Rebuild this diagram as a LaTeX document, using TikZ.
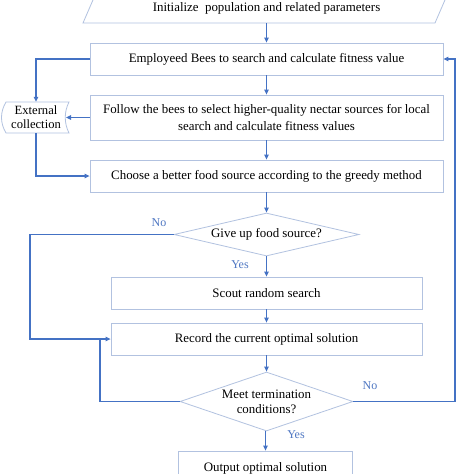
\documentclass[tikz,border=0pt]{standalone}
\usepackage{fontspec}
\setmainfont{Liberation Serif}
\usetikzlibrary{shapes.geometric,arrows.meta,calc}
\definecolor{linec}{RGB}{68,114,196}
\definecolor{boxc}{RGB}{178,194,224}
\definecolor{labc}{RGB}{80,120,195}
\tikzset{
  boxnode/.style={rectangle,draw=boxc,line width=0.8pt,inner sep=0pt,font=\fontsize{12.9}{17}\selectfont,align=center},
  decnode/.style={diamond,draw=boxc,line width=0.8pt,inner sep=0pt},
  arr/.style={draw=linec,line width=1.1pt,-{Triangle[length=5pt,width=4.5pt]}},
  ln/.style={draw=linec,line width=1.1pt},
  lab/.style={text=labc,font=\fontsize{12}{13}\selectfont,inner sep=0pt},
  dtext/.style={font=\fontsize{12.9}{15}\selectfont,align=center}
}
\begin{document}
\begin{tikzpicture}[x=1pt,y=-1pt]
\useasboundingbox (0,0) rectangle (474,474);
\clip (0,0) rectangle (474,474);
\fill[white] (0,0) rectangle (474,474);
% initialize parallelogram
\draw[boxc,line width=0.8pt] (96,-7) -- (448,-7) -- (435,23) -- (83,23) -- cycle;
\node[minimum height=30pt,minimum width=200pt,inner sep=0pt,font=\fontsize{12.9}{15}\selectfont] (init) at (266.5,8) {Initialize\ \ population and related parameters};
% boxes
\node[boxnode,minimum width=353pt,minimum height=32pt] (b1) at (266.5,59) {Employeed Bees to search and calculate fitness value};
\node[boxnode,minimum width=353pt,minimum height=45pt] (b2) at (266.5,117.5) {Follow the bees to select higher-quality nectar sources for local\\search and calculate fitness values};
\node[boxnode,minimum width=353pt,minimum height=32pt] (b3) at (266.5,176) {Choose a better food source according to the greedy method};
\node[decnode,minimum width=185pt,minimum height=43pt,label={[dtext]center:Give up food source?}] (d1) at (266.5,234.5) {};
\node[boxnode,minimum width=311pt,minimum height=32pt] (b4) at (266.5,293) {Scout random search};
\node[boxnode,minimum width=311pt,minimum height=32pt] (b5) at (266.5,339) {Record the current optimal solution};
\node[decnode,minimum width=173pt,minimum height=59pt,label={[dtext]center:Meet termination\\conditions?}] (d2) at (266.5,401.5) {};
\node[boxnode,minimum width=174pt,minimum height=34pt] (b6) at (265.5,468) {Output optimal solution};
% external collection
\node[minimum width=62pt,minimum height=31pt,inner sep=0pt,font=\fontsize{12.6}{14}\selectfont,align=center] (ext) at (36,117.5) {External\\collection};
\draw[boxc,line width=0.8pt] (6,102) -- (69,102) .. controls (64,112) and (64,123) .. (69,133) -- (6,133) .. controls (0,123) and (0,112) .. cycle;
% coordinates
\coordinate (r1) at (455,59);
\coordinate (l1) at (30,339);
\coordinate (l2) at (100,339);
\coordinate (extin) at (66,117.5);
% main connectors
\draw[arr] (init.south) -- (b1.north);
\draw[arr] (b1) -- (b2);
\draw[arr] (b2) -- (b3);
\draw[arr] (b3) -- (d1.north);
\draw[arr] (d1.south) -- (b4.north);
\draw[arr] (b4) -- (b5);
\draw[arr] (b5) -- (d2.north);
\draw[arr] (d2.south -| b6.north) -- (b6.north);
% side connectors
\draw[arr] (b1.west) -| (ext.north);
\draw[arr] (b2.west) -- (extin);
\draw[arr] (ext.south) |- (b3.west);
\draw[arr] (d1.west) -| (l1) -- (b5.west);
\draw[ln] (d2.west) -| (l2);
\draw[arr] (d2.east) -| (r1) -- (b1.east);
% labels
\node[lab] (no1) at (159,223) {No};
\node[lab] (yes1) at (240,265) {Yes};
\node[lab] (no2) at (370,386) {No};
\node[lab] (yes2) at (296,435) {Yes};
\end{tikzpicture}
\end{document}
